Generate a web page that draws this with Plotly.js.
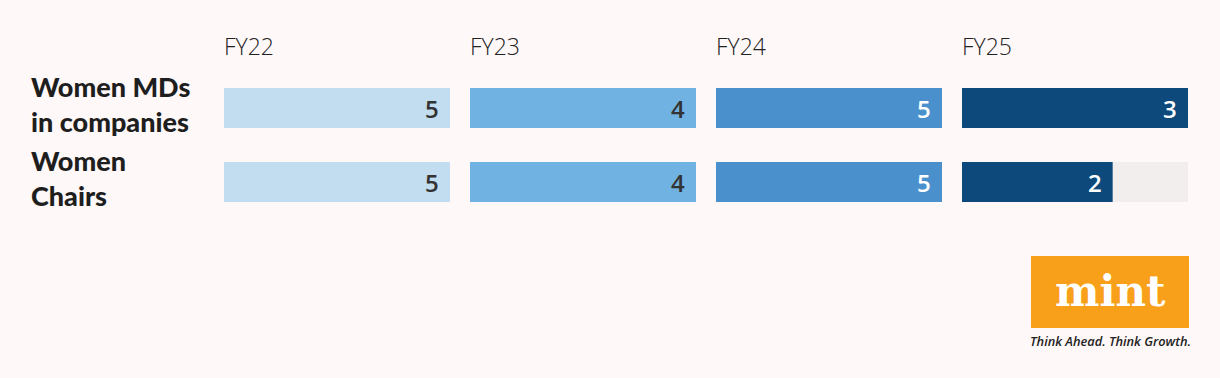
<!DOCTYPE html>
<html><head><meta charset="utf-8">
<script src="https://cdn.plot.ly/plotly-3.0.1.min.js"></script>
<style>html,body{margin:0;padding:0;background:#FFF8F8;}</style>
</head><body><div id="chart" style="width:1220px;height:378px;"></div>
<script>
const years = ["FY22","FY23","FY24","FY25"];
const rows = ["Women MDs<br>in companies","Women<br>Chairs"];
const mds = [5,4,5,3];
const chairs = [5,4,5,2];
const colors = ["#C2DDF0","#70B2E2","#4A90CD","#0D4A7B"];
const textColors = ["#333333","#333333","#FFFFFF","#FFFFFF"];

const W = 1220, H = 378;
const colLeft = [224,470,716,962], colW = 226;
const rowKeys = ["r0","r1"];
const data = [], layout = {
  width: W, height: H, margin:{l:0,r:0,t:0,b:0},
  paper_bgcolor:"#FFF8F8", plot_bgcolor:"rgba(0,0,0,0)",
  showlegend:false, barmode:"overlay", annotations:[], shapes:[]
};
const yr = [(H-108)/74, -108/74];
years.forEach((yname, i) => {
  const vals = [mds[i], chairs[i]];
  const mx = Math.max(...vals);
  const ax = i===0 ? "" : String(i+1);
  data.push({type:"bar", orientation:"h", x:[mx,mx], y:rowKeys, xaxis:"x"+ax, yaxis:"y"+ax,
    marker:{color:"#F2EEEE"}, width:0.54, hoverinfo:"skip"});
  data.push({type:"bar", orientation:"h", x:vals, y:rowKeys, xaxis:"x"+ax, yaxis:"y"+ax,
    marker:{color:colors[i]}, width:0.54, hoverinfo:"skip"});
  vals.forEach((v, j) => {
    layout.annotations.push({text:String(v), xref:"x"+ax, yref:"y"+ax, x:v, y:rowKeys[j],
      xanchor:"right", yanchor:"middle", xshift:-9, showarrow:false,
      font:{family:"Open Sans", size:24, color:textColors[i], weight:600}});
  });
  layout["xaxis"+ax] = {domain:[colLeft[i]/W,(colLeft[i]+colW)/W], range:[0,mx], visible:false, fixedrange:true};
  layout["yaxis"+ax] = {domain:[0,1], range:yr, type:"category", categoryarray:rowKeys, visible:false, anchor:"x"+ax};
  layout.annotations.push({text:yname, xref:"paper", yref:"paper", x:(colLeft[i]-2)/W, y:1-46/H,
    xanchor:"left", yanchor:"middle", showarrow:false,
    font:{family:"Open Sans", size:23, color:"#222222", weight:300}});
});
rows.forEach((r, j) => {
  layout.annotations.push({text:r, xref:"paper", yref:"paper", x:29/W, y:1-(104+74*j)/H,
    xanchor:"left", yanchor:"middle", align:"left", showarrow:false,
    font:{family:"Lato", size:27, color:"#1E1E1E", weight:900}});
});
layout.shapes.push({type:"rect", xref:"paper", yref:"paper", x0:1031/W, x1:1189/W, y0:1-328/H, y1:1-256/H,
  fillcolor:"#F9A01B", line:{width:0}});
layout.annotations.push({text:"<b>mint</b>", xref:"paper", yref:"paper", x:1110/W, y:1-291/H,
  xanchor:"center", yanchor:"middle", showarrow:false,
  font:{family:"DejaVu Serif", size:42, color:"#FFFFFF"}});
layout.annotations.push({text:"<i>Think Ahead. Think Growth.</i>", xref:"paper", yref:"paper", x:1110/W, y:1-341/H,
  xanchor:"center", yanchor:"middle", showarrow:false,
  font:{family:"Open Sans", size:12.8, color:"#222222", weight:600}});
Plotly.newPlot("chart", data, layout, {displayModeBar:false, staticPlot:true});
</script></body></html>
